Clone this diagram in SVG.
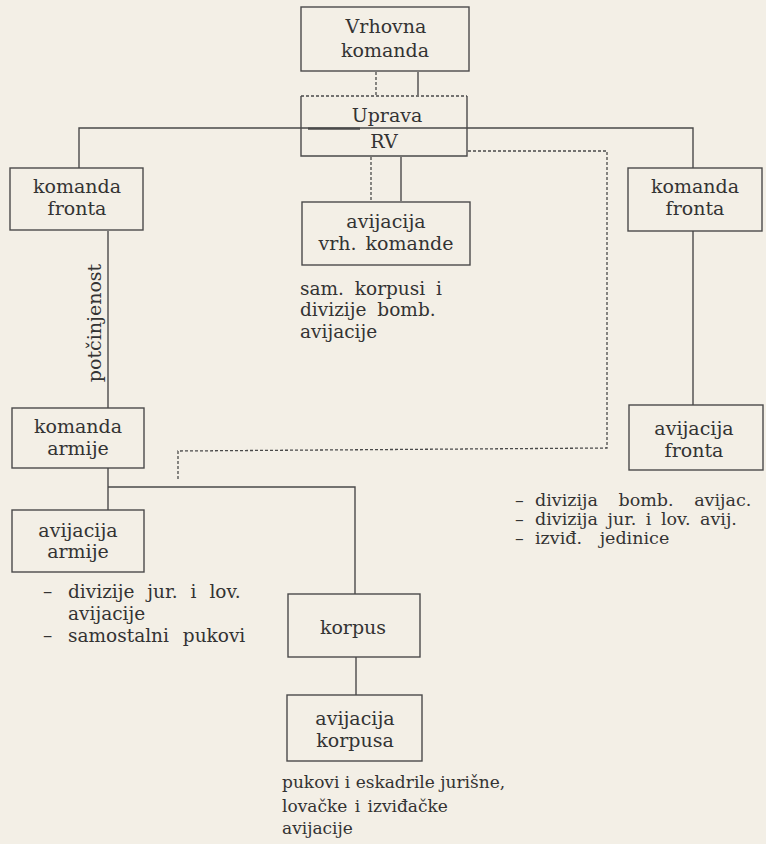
<svg xmlns="http://www.w3.org/2000/svg" width="766" height="844" viewBox="0 0 766 844">
<style>
.bg{fill:#f3efe6}
.box{fill:none;stroke:#4a4a4a;stroke-width:1.4}
.ln{fill:none;stroke:#4a4a4a;stroke-width:1.4}
.ds{fill:none;stroke:#4a4a4a;stroke-width:1.3;stroke-dasharray:3 2}
.t{font-family:'DejaVu Serif','Liberation Serif','Noto Serif',serif;font-size:19px;fill:#333;text-anchor:middle}
.f{font-family:'DejaVu Serif','Liberation Serif','Noto Serif',serif;font-size:18.5px;fill:#333}
.r{font-size:17.5px}
.b{font-size:17px}
</style>
<rect class="bg" x="0" y="0" width="766" height="844"/>

<g id="connectors">
  <line class="ds" x1="376" y1="72" x2="376" y2="95"/>
  <line class="ln" x1="418" y1="72" x2="418" y2="95"/>
  <line class="ds" x1="371" y1="157" x2="371" y2="201"/>
  <line class="ln" x1="401" y1="157" x2="401" y2="201"/>
  <polyline class="ln" points="79,168 79,128 693,128 693,168"/>
  <line class="ln" x1="308" y1="128.6" x2="360" y2="128.6" style="stroke-width:2.4"/>
  <line class="ln" x1="108" y1="231" x2="108" y2="408"/>
  <text class="t" transform="translate(101,323) rotate(-90)">potčinjenost</text>
  <line class="ln" x1="693" y1="231" x2="693" y2="405"/>
  <polyline class="ds" points="468,151 607,151 607,448 178,451 178,481"/>
  <line class="ln" x1="108" y1="468" x2="108" y2="510"/>
  <polyline class="ln" points="108,487 355,487 355,594"/>
  <line class="ln" x1="356" y1="657" x2="356" y2="695"/>
</g>

<g id="vrhovna-komanda">
  <rect class="box" x="301" y="7" width="168" height="64"/>
  <text class="t" x="386" y="33">Vrhovna</text>
  <text class="t" x="385" y="57">komanda</text>
</g>

<g id="uprava-rv">
  <path class="box" d="M301,96 V156 H467 V96"/>
  <line class="ds" x1="301" y1="96" x2="467" y2="96"/>
  <text class="t" x="387" y="122">Uprava</text>
  <text class="t" x="384" y="148">RV</text>
</g>

<g id="komanda-fronta-l">
  <rect class="box" x="10" y="168" width="133" height="62"/>
  <text class="t" x="77" y="193">komanda</text>
  <text class="t" x="77" y="215">fronta</text>
</g>

<g id="komanda-fronta-r">
  <rect class="box" x="628" y="168" width="134" height="63"/>
  <text class="t" x="695" y="193">komanda</text>
  <text class="t" x="695" y="215">fronta</text>
</g>

<g id="avijacija-vrh-komande">
  <rect class="box" x="302" y="202" width="168" height="63"/>
  <text class="t" x="386" y="228">avijacija</text>
  <text class="t" x="386" y="250" style="word-spacing:3px">vrh. komande</text>
</g>

<g id="sam-korpusi-text">
  <text class="f" x="300" y="295" style="word-spacing:5px">sam. korpusi i</text>
  <text class="f" x="300" y="316" style="word-spacing:5px">divizije bomb.</text>
  <text class="f" x="300" y="338">avijacije</text>
</g>

<g id="komanda-armije">
  <rect class="box" x="12" y="408" width="132" height="60"/>
  <text class="t" x="78" y="433">komanda</text>
  <text class="t" x="78" y="455">armije</text>
</g>

<g id="avijacija-fronta">
  <rect class="box" x="629" y="405" width="134" height="65"/>
  <text class="t" x="694" y="435">avijacija</text>
  <text class="t" x="694" y="457">fronta</text>
</g>

<g id="avijacija-armije">
  <rect class="box" x="12" y="510" width="132" height="62"/>
  <text class="t" x="78" y="537">avijacija</text>
  <text class="t" x="78" y="558">armije</text>
</g>

<g id="armije-list">
  <text class="f" y="598" style="word-spacing:7px"><tspan x="43">–</tspan><tspan x="68">divizije jur. i lov.</tspan></text>
  <text class="f" x="68" y="620">avijacije</text>
  <text class="f" y="642" style="word-spacing:8px"><tspan x="43">–</tspan><tspan x="68">samostalni pukovi</tspan></text>
</g>

<g id="fronta-list">
  <text class="f r" y="506" style="word-spacing:15px"><tspan x="515">–</tspan><tspan x="535">divizija bomb. avijac.</tspan></text>
  <text class="f r" y="525" style="word-spacing:4px"><tspan x="515">–</tspan><tspan x="535">divizija jur. i lov. avij.</tspan></text>
  <text class="f r" y="544" style="word-spacing:12px"><tspan x="515">–</tspan><tspan x="535">izviđ. jedinice</tspan></text>
</g>

<g id="korpus">
  <rect class="box" x="288" y="594" width="132" height="63"/>
  <text class="t" x="353" y="634">korpus</text>
</g>

<g id="avijacija-korpusa">
  <rect class="box" x="287" y="695" width="135" height="66"/>
  <text class="t" x="355" y="725">avijacija</text>
  <text class="t" x="355" y="747">korpusa</text>
</g>

<g id="korpusa-text">
  <text class="f b" x="282" y="788">pukovi i eskadrile jurišne,</text>
  <text class="f b" x="282" y="812" style="word-spacing:2px">lovačke i izviđačke</text>
  <text class="f b" x="282" y="834">avijacije</text>
</g>
</svg>
